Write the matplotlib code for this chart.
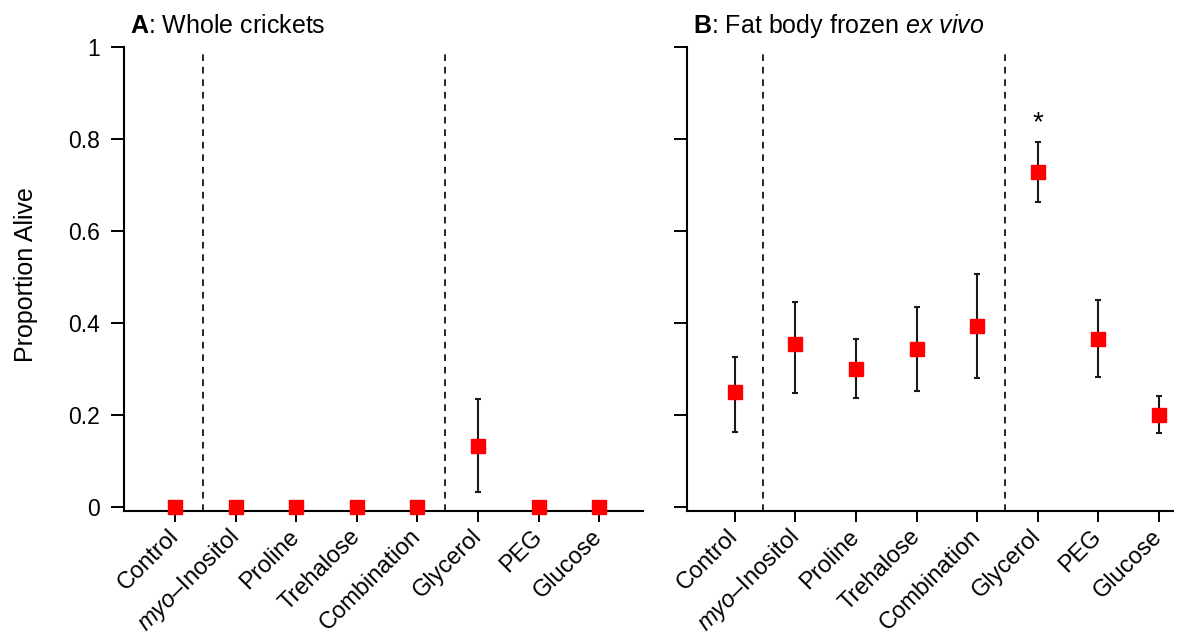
import numpy as np
import matplotlib
matplotlib.use("Agg")
import matplotlib.pyplot as plt

plt.rcParams["font.family"] = ["Liberation Sans", "DejaVu Sans"]
plt.rcParams["mathtext.fontset"] = "custom"
plt.rcParams["mathtext.rm"] = "Liberation Sans"
plt.rcParams["mathtext.it"] = "Liberation Sans:italic"
plt.rcParams["mathtext.bf"] = "Liberation Sans:bold"

treatments = ["Control", r"$\it{myo}$–Inositol", "Proline", "Trehalose",
              "Combination", "Glycerol", "PEG", "Glucose"]

# whole crickets: proportion alive with interval bounds
whole_mean = [0, 0, 0, 0, 0, 0.133, 0, 0]
whole_lo = [0, 0, 0, 0, 0, 0.033, 0, 0]
whole_hi = [0, 0, 0, 0, 0, 0.235, 0, 0]

# fat body frozen ex vivo
fat_mean = [0.251, 0.354, 0.300, 0.343, 0.393, 0.728, 0.365, 0.200]
fat_lo = [0.162, 0.248, 0.236, 0.252, 0.280, 0.662, 0.283, 0.160]
fat_hi = [0.325, 0.446, 0.365, 0.434, 0.507, 0.793, 0.449, 0.241]

# group separators (between control / single additives / others)
separators = [1.46, 5.45]
fat_signif = ["", "", "", "", "", "*", "", ""]

W, H = 1181, 637
fig = plt.figure(figsize=(W / 100, H / 100), dpi=100)


def px_axes(left, right, top, bottom):
    return fig.add_axes([left / W, 1 - bottom / H, (right - left) / W, (bottom - top) / H])


def panel(ax, mean, lo, hi, title, xlim, ylabels=True, signif=None):
    x = np.arange(1, len(mean) + 1)
    mean = np.array(mean)
    yerr = np.vstack([mean - np.array(lo), np.array(hi) - mean])
    has_err = (yerr.sum(axis=0) > 0)
    ax.errorbar(x[has_err], mean[has_err], yerr=yerr[:, has_err], fmt="none",
                ecolor="#1a1a1a", elinewidth=1.5, capsize=2.5, capthick=1.5, zorder=2)
    ax.plot(x, mean, "s", color="#ff0000", markersize=10, clip_on=False, zorder=3)
    for s in separators:
        ax.axvline(s, ymin=0, ymax=0.985, color="black", lw=1.2, ls=(0, (4, 3.5)), zorder=1)
    if signif:
        for xi, hi_i, lab in zip(x, hi, signif):
            if lab:
                ax.annotate(lab, (xi, hi_i), xytext=(0, 14), textcoords="offset points",
                            ha="center", va="center", fontsize=20)
    ax.set_xlim(*xlim)
    ax.set_ylim(-0.0087, 1.0)
    ax.set_yticks([0, 0.2, 0.4, 0.6, 0.8, 1])
    ax.set_yticklabels(["0", "0.2", "0.4", "0.6", "0.8", "1"] if ylabels else [])
    ax.set_xticks(x)
    ax.set_xticklabels(treatments, rotation=45, ha="right", va="center",
                       rotation_mode="anchor", fontsize=17)
    ax.tick_params(axis="y", length=9.5, width=1.4, pad=8, labelsize=16.5)
    ax.tick_params(axis="x", length=8, width=1.4, pad=8)
    for side in ["top", "right"]:
        ax.spines[side].set_visible(False)
    for side in ["left", "bottom"]:
        ax.spines[side].set_linewidth(1.5)
    ax.text(0.012, 1.03, title, transform=ax.transAxes, fontsize=18,
            ha="left", va="baseline")


axA = px_axes(124, 643, 47, 511)
axB = px_axes(687, 1173, 47, 511)

panel(axA, whole_mean, whole_lo, whole_hi, r"$\bf{A}$: Whole crickets", (0.16, 8.72))
panel(axB, fat_mean, fat_lo, fat_hi, r"$\bf{B}$: Fat body frozen $\it{ex\ vivo}$",
      (0.21, 8.23), ylabels=False, signif=fat_signif)

axA.set_ylabel("Proportion Alive", fontsize=18)
axA.yaxis.set_label_coords(-0.166, 0.51)

fig.savefig("out.png", dpi=100)
